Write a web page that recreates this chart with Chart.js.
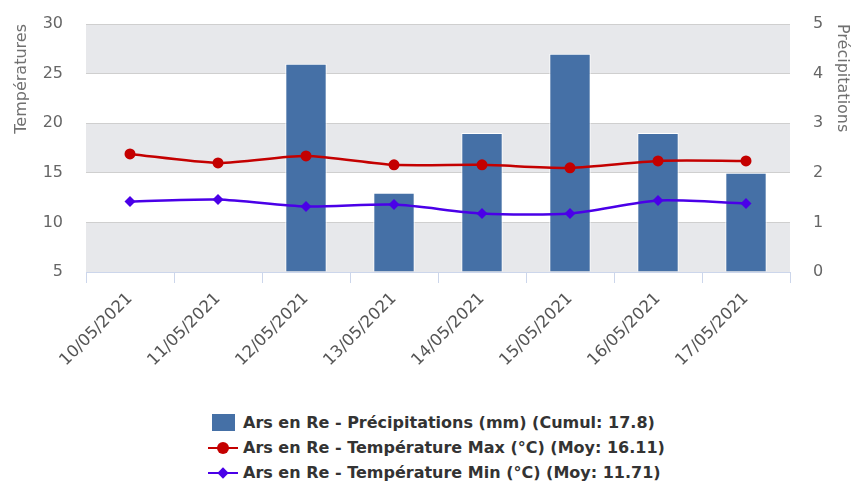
<!DOCTYPE html>
<html>
<head>
<meta charset="utf-8">
<script src="https://cdn.jsdelivr.net/npm/chart.js@4"></script>
<style>
  html, body { margin: 0; padding: 0; background: #ffffff; }
  #wrap { position: relative; width: 865px; height: 484px; overflow: hidden; }
  #c { position: absolute; left: 0; top: 0; }
  #legend { position: absolute; left: 208px; top: 410px; font-family: "DejaVu Sans", sans-serif; font-weight: bold; font-size: 16px; color: #333333; }
  .row { position: relative; height: 25px; line-height: 25px; white-space: nowrap; }
  .mk { position: absolute; left: 0; top: 0; width: 30px; height: 25px; }
  .txt { position: absolute; left: 35px; top: 0; }
  .box { position: absolute; left: 4px; top: 4px; width: 23px; height: 17px; }
  .ln { position: absolute; left: 0; top: 12px; width: 30px; height: 2px; }
  .dot { position: absolute; left: 9px; top: 7px; width: 12px; height: 12px; border-radius: 50%; }
  .dia { position: absolute; left: 11px; top: 9px; width: 8px; height: 8px; transform: rotate(45deg); }
</style>
</head>
<body>
<div id="wrap">
  <canvas id="c" width="865" height="400"></canvas>
  <div id="legend"></div>
</div>
<script>
// ---- data ----
const categories = ['10/05/2021', '11/05/2021', '12/05/2021', '13/05/2021', '14/05/2021', '15/05/2021', '16/05/2021', '17/05/2021'];
const precipitations = [0, 0, 4.2, 1.6, 2.8, 4.4, 2.8, 2.0];
const tempMax = [16.9, 16.0, 16.7, 15.8, 15.8, 15.5, 16.2, 16.2];
const tempMin = [12.1, 12.3, 11.6, 11.8, 10.9, 10.9, 12.2, 11.9];
const seriesNames = [
  'Ars en Re - Précipitations (mm) (Cumul: 17.8)',
  'Ars en Re - Température Max (°C) (Moy: 16.11)',
  'Ars en Re - Température Min (°C) (Moy: 11.71)'
];
const leftTicks = [5, 10, 15, 20, 25, 30];
const rightTicks = [0, 1, 2, 3, 4, 5];

const BLUE = '#4570a6';
const RED = '#c40000';
const PURPLE = '#4a00e8';
const FONT = '"DejaVu Sans", sans-serif';
const CLEAR = 'rgba(0,0,0,0)';

const bandsPlugin = {
  id: 'bands',
  beforeDraw(chart) {
    const { ctx, chartArea } = chart;
    const y = chart.scales.y;
    ctx.save();
    ctx.fillStyle = '#e7e8eb';
    for (let i = 0; i < leftTicks.length - 1; i += 2) {
      const a = y.getPixelForValue(leftTicks[i]);
      const b = y.getPixelForValue(leftTicks[i + 1]);
      ctx.fillRect(chartArea.left, b, chartArea.right - chartArea.left, a - b);
    }
    ctx.restore();
  }
};

const chart = new Chart(document.getElementById('c'), {
  data: {
    labels: categories,
    datasets: [
      {
        type: 'bar', label: seriesNames[0], data: precipitations, yAxisID: 'y1',
        backgroundColor: BLUE, borderColor: '#ffffff', borderWidth: 1,
        barPercentage: 0.47, categoryPercentage: 1, order: 2
      },
      {
        type: 'line', label: seriesNames[1], data: tempMax, yAxisID: 'y',
        borderColor: RED, backgroundColor: RED, borderWidth: 2.5, tension: 0.25,
        pointStyle: 'circle', pointRadius: 5.5, pointBorderWidth: 0, order: 1
      },
      {
        type: 'line', label: seriesNames[2], data: tempMin, yAxisID: 'y',
        borderColor: PURPLE, backgroundColor: PURPLE, borderWidth: 2.5, tension: 0.25,
        pointStyle: 'rectRot', pointRadius: 5.5, pointBorderWidth: 0, order: 0
      }
    ]
  },
  options: {
    responsive: false,
    animation: false,
    layout: { padding: { top: 24, left: 0, right: 0, bottom: 0 } },
    plugins: { legend: { display: false }, tooltip: { enabled: false } },
    scales: {
      x: {
        offset: true,
        grid: { offset: true, drawOnChartArea: false, drawTicks: true, tickLength: 11, color: '#ccd6eb' },
        border: { display: true, color: '#ccd6eb', width: 1 },
        ticks: { minRotation: 45, maxRotation: 45, padding: 6, color: '#555555', font: { family: FONT, size: 16.5 } },
        afterFit(s) { s.height = 128; }
      },
      y: {
        position: 'left', min: 5, max: 30,
        afterBuildTicks(s) { s.ticks = leftTicks.map(v => ({ value: v })); },
        grid: { color: '#cfcfcf', lineWidth: 1, drawTicks: true, tickLength: 23, tickColor: CLEAR },
        border: { display: false },
        ticks: { padding: 0, color: '#666666', font: { family: FONT, size: 16 } },
        title: { display: true, text: 'Températures', align: 'end', color: '#707070', font: { family: FONT, size: 16 }, padding: { top: 12, bottom: 0 } },
        afterFit(s) { s.width = 86; }
      },
      y1: {
        position: 'right', min: 0, max: 5,
        afterBuildTicks(s) { s.ticks = rightTicks.map(v => ({ value: v })); },
        grid: { display: true, drawOnChartArea: false, drawTicks: true, tickLength: 23, tickColor: CLEAR, color: CLEAR },
        border: { display: false },
        ticks: { padding: 0, color: '#666666', font: { family: FONT, size: 16 } },
        title: { display: true, text: 'Précipitations', align: 'end', color: '#707070', font: { family: FONT, size: 16 }, padding: { top: 13, bottom: 0 } },
        afterFit(s) { s.width = 75; }
      }
    }
  },
  plugins: [bandsPlugin]
});

// HTML legend built from the chart's datasets
const legend = document.getElementById('legend');
chart.data.datasets.forEach((ds) => {
  const row = document.createElement('div');
  row.className = 'row';
  const mk = document.createElement('div');
  mk.className = 'mk';
  if (ds.type === 'bar') {
    const b = document.createElement('div'); b.className = 'box'; b.style.background = ds.backgroundColor; mk.appendChild(b);
  } else {
    const l = document.createElement('div'); l.className = 'ln'; l.style.background = ds.borderColor; mk.appendChild(l);
    const p = document.createElement('div'); p.className = ds.pointStyle === 'rectRot' ? 'dia' : 'dot'; p.style.background = ds.borderColor; mk.appendChild(p);
  }
  const t = document.createElement('span');
  t.className = 'txt';
  t.textContent = ds.label;
  row.appendChild(mk);
  row.appendChild(t);
  legend.appendChild(row);
});
</script>
</body>
</html>
